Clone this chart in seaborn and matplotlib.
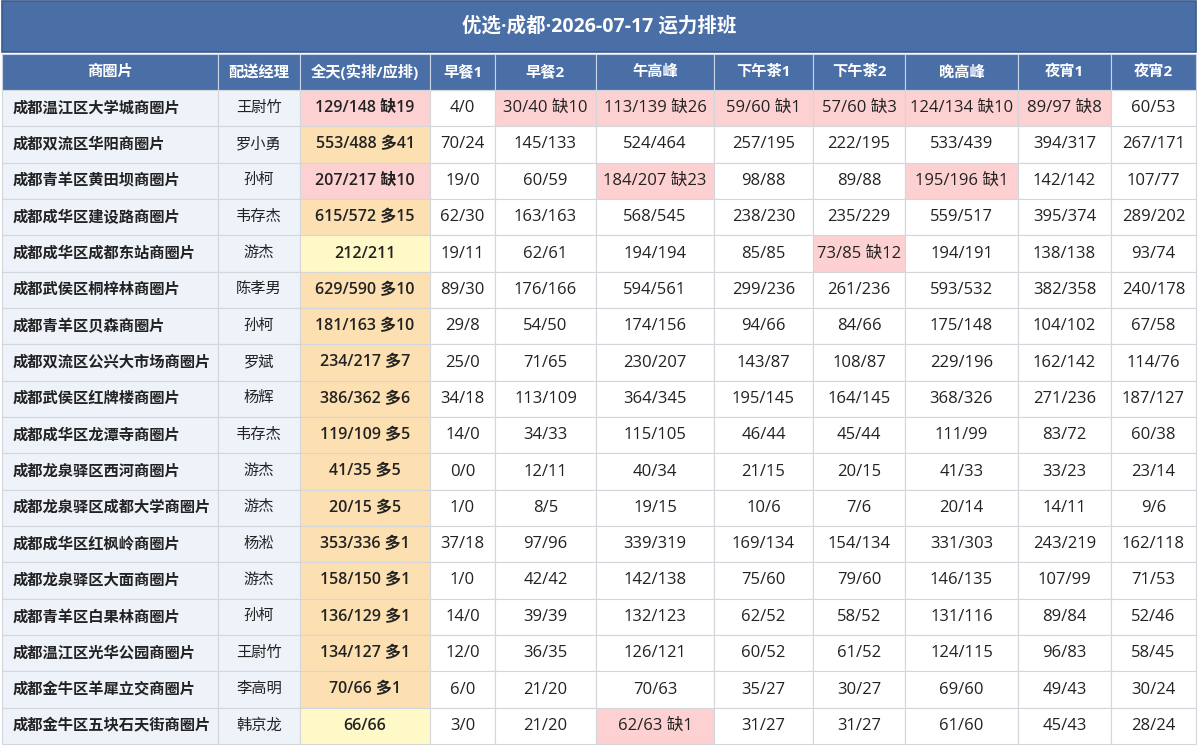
import matplotlib
matplotlib.use("Agg")
import matplotlib.pyplot as plt
import numpy as np
import seaborn as sns

sns.set_theme(style="white")
plt.rcParams['font.family'] = ['Open Sans', 'Noto Sans CJK SC', 'DejaVu Sans']

title = "优选·成都·2026-07-17 运力排班"
headers = ["商圈片", "配送经理", "全天(实排/应排)", "早餐1", "早餐2", "午高峰",
           "下午茶1", "下午茶2", "晚高峰", "夜宵1", "夜宵2"]

areas = ["成都温江区大学城商圈片", "成都双流区华阳商圈片", "成都青羊区黄田坝商圈片",
         "成都成华区建设路商圈片", "成都成华区成都东站商圈片", "成都武侯区桐梓林商圈片",
         "成都青羊区贝森商圈片", "成都双流区公兴大市场商圈片", "成都武侯区红牌楼商圈片",
         "成都成华区龙潭寺商圈片", "成都龙泉驿区西河商圈片", "成都龙泉驿区成都大学商圈片",
         "成都成华区红枫岭商圈片", "成都龙泉驿区大面商圈片", "成都青羊区白果林商圈片",
         "成都温江区光华公园商圈片", "成都金牛区羊犀立交商圈片", "成都金牛区五块石天街商圈片"]
managers = ["王尉竹", "罗小勇", "孙柯", "韦存杰", "游杰", "陈孝男", "孙柯", "罗斌", "杨辉",
            "韦存杰", "游杰", "游杰", "杨淞", "游杰", "孙柯", "王尉竹", "李高明", "韩京龙"]
full_day = ["129/148 缺19", "553/488 多41", "207/217 缺10", "615/572 多15", "212/211",
            "629/590 多10", "181/163 多10", "234/217 多7", "386/362 多6", "119/109 多5",
            "41/35 多5", "20/15 多5", "353/336 多1", "158/150 多1", "136/129 多1",
            "134/127 多1", "70/66 多1", "66/66"]
breakfast1 = ["4/0", "70/24", "19/0", "62/30", "19/11", "89/30", "29/8", "25/0", "34/18",
              "14/0", "0/0", "1/0", "37/18", "1/0", "14/0", "12/0", "6/0", "3/0"]
breakfast2 = ["30/40 缺10", "145/133", "60/59", "163/163", "62/61", "176/166", "54/50",
              "71/65", "113/109", "34/33", "12/11", "8/5", "97/96", "42/42", "39/39",
              "36/35", "21/20", "21/20"]
lunch_peak = ["113/139 缺26", "524/464", "184/207 缺23", "568/545", "194/194", "594/561",
              "174/156", "230/207", "364/345", "115/105", "40/34", "19/15", "339/319",
              "142/138", "132/123", "126/121", "70/63", "62/63 缺1"]
tea1 = ["59/60 缺1", "257/195", "98/88", "238/230", "85/85", "299/236", "94/66", "143/87",
        "195/145", "46/44", "21/15", "10/6", "169/134", "75/60", "62/52", "60/52", "35/27",
        "31/27"]
tea2 = ["57/60 缺3", "222/195", "89/88", "235/229", "73/85 缺12", "261/236", "84/66",
        "108/87", "164/145", "45/44", "20/15", "7/6", "154/134", "79/60", "58/52", "61/52",
        "30/27", "31/27"]
dinner_peak = ["124/134 缺10", "533/439", "195/196 缺1", "559/517", "194/191", "593/532",
               "175/148", "229/196", "368/326", "111/99", "41/33", "20/14", "331/303",
               "146/135", "131/116", "124/115", "69/60", "61/60"]
night1 = ["89/97 缺8", "394/317", "142/142", "395/374", "138/138", "382/358", "104/102",
          "162/142", "271/236", "83/72", "33/23", "14/11", "243/219", "107/99", "89/84",
          "96/83", "49/43", "45/43"]
night2 = ["60/53", "267/171", "107/77", "289/202", "93/74", "240/178", "67/58", "114/76",
          "187/127", "60/38", "23/14", "9/6", "162/118", "71/53", "52/46", "58/45", "30/24",
          "28/24"]

columns = [areas, managers, full_day, breakfast1, breakfast2, lunch_peak,
           tea1, tea2, dinner_peak, night1, night2]

# layout (pixels)
col_edges = [2, 218, 300, 430, 495, 596, 714, 813, 905, 1018, 1111, 1196]
title_top, title_bot = 1, 52
head_top, head_bot = 54, 90
table_bot = 744
n_rows = len(areas)
row_h = (table_bot - head_bot) / n_rows

blue = "#4a6ea6"
first_col_bg = "#eef2f9"
red_bg = "#fdd1d1"
orange_bg = "#fde0b2"
yellow_bg = "#fff9c7"
grid_c = "#d3d6db"
text_c = "#222222"


def cell_color(ci, txt):
    if ci == 0 or ci == 1:
        return first_col_bg
    if "缺" in txt:
        return red_bg
    if "多" in txt:
        return orange_bg
    if ci == 2:
        return yellow_bg
    return "white"


fig = plt.figure(figsize=(12, 7.49), dpi=100)
ax = fig.add_axes([0, 0, 1, 1])
ax.set_xlim(0, 1200)
ax.set_ylim(749, 0)
ax.axis("off")

# title bar
ax.add_patch(plt.Rectangle((col_edges[0], title_top), col_edges[-1] - col_edges[0],
                           title_bot - title_top, facecolor=blue, edgecolor="#3a5b8c", lw=1.2))
ax.text((col_edges[0] + col_edges[-1]) / 2, (title_top + title_bot) / 2, title,
        color="white", fontsize=14, fontweight="bold", ha="center", va="center")

# header
for ci, h in enumerate(headers):
    x0, x1 = col_edges[ci], col_edges[ci + 1]
    ax.add_patch(plt.Rectangle((x0, head_top), x1 - x0, head_bot - head_top,
                               facecolor=blue, edgecolor="#c9d3e3", lw=0.8))
    ax.text((x0 + x1) / 2, (head_top + head_bot) / 2, h, color="white",
            fontsize=11, fontweight="bold", ha="center", va="center")

# body
for ci, col in enumerate(columns):
    x0, x1 = col_edges[ci], col_edges[ci + 1]
    for ri, txt in enumerate(col):
        y0 = head_bot + ri * row_h
        ax.add_patch(plt.Rectangle((x0, y0), x1 - x0, row_h,
                                   facecolor=cell_color(ci, txt), edgecolor=grid_c, lw=0.8))
        if ci == 0:
            ax.text(x0 + 11, y0 + row_h / 2, txt, color=text_c, fontsize=11,
                    fontweight="bold", ha="left", va="center")
        elif ci == 1:
            ax.text((x0 + x1) / 2, y0 + row_h / 2, txt, color=text_c, fontsize=11,
                    ha="center", va="center")
        elif ci == 2:
            ax.text((x0 + x1) / 2, y0 + row_h / 2, txt, color=text_c, fontsize=11.5,
                    fontweight="semibold", ha="center", va="center")
        else:
            ax.text((x0 + x1) / 2, y0 + row_h / 2, txt, color=text_c, fontsize=12,
                    ha="center", va="center")

fig.savefig("out.png", dpi=100, facecolor="white")
